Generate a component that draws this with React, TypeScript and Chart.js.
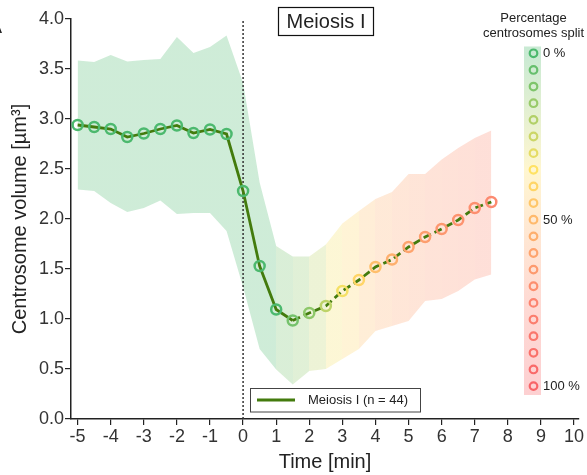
import React, { useEffect, useRef } from "react";
import { Chart, registerables } from "chart.js";

Chart.register(...registerables);

// ---------- data ----------
const times = [-5, -4.5, -4, -3.5, -3, -2.5, -2, -1.5, -1, -0.5, 0, 0.5, 1, 1.5, 2, 2.5, 3, 3.5, 4, 4.5, 5, 5.5, 6, 6.5, 7, 7.5];
const meanVolume = [2.94, 2.92, 2.9, 2.82, 2.855, 2.9, 2.935, 2.86, 2.895, 2.85, 2.28, 1.53, 1.095, 0.985, 1.06, 1.13, 1.28, 1.39, 1.52, 1.595, 1.72, 1.82, 1.9, 1.99, 2.11, 2.17];
const upperBand = [3.585, 3.57, 3.64, 3.575, 3.59, 3.6, 3.82, 3.66, 3.72, 3.835, 3.36, 2.365, 1.73, 1.625, 1.625, 1.745, 1.955, 2.08, 2.2, 2.27, 2.45, 2.45, 2.595, 2.71, 2.81, 2.885];
const lowerBand = [2.295, 2.28, 2.16, 2.07, 2.11, 2.185, 2.05, 2.06, 2.06, 1.88, 1.32, 0.7, 0.495, 0.345, 0.48, 0.5, 0.6, 0.7, 0.88, 0.93, 0.98, 1.18, 1.2, 1.28, 1.395, 1.445];
const splitPct = [0, 0, 0, 0, 0, 0, 0, 0, 0, 0, 0, 0, 0, 8, 13, 22, 33, 40, 48, 55, 60, 63, 66, 68, 70, 72];
const xTicks = [-5, -4, -3, -2, -1, 0, 1, 2, 3, 4, 5, 6, 7, 8, 9, 10];
const yTicks = [0, 0.5, 1, 1.5, 2, 2.5, 3, 3.5, 4];
const colorbarPct = [0, 5, 10, 15, 20, 25, 30, 35, 40, 45, 50, 55, 60, 65, 70, 75, 80, 85, 90, 95, 100];
const colorbarLabelPct = [0, 50, 100];
const colorbarLabelText = ["0 %", "50 %", "100 %"];
const colorbarTitle = ["Percentage", "centrosomes split"];
const seriesLabel = "Meiosis I (n = 44)";
const panelTitle = "Meiosis I";
const panelLetter = "A";
const xTitle = "Time [min]";
const yTitle = "Centrosome volume [µm³]";
const dashFromTime = 1.5;
const onsetTime = 0;

// ---------- style ----------
const FONT = "'Liberation Sans', Arial, Helvetica, sans-serif";
const LINE_COLOR = "#437b0d";
const TEXT = "#222";
const STOPS: [number, number[]][] = [
  [0, [76, 185, 110]],
  [35, [255, 226, 100]],
  [50, [255, 186, 108]],
  [75, [252, 132, 112]],
  [100, [248, 100, 104]],
];
function pctColor(p: number, a = 1): string {
  for (let k = 0; k < STOPS.length - 1; k++) {
    const [p0, c0] = STOPS[k];
    const [p1, c1] = STOPS[k + 1];
    if (p <= p1) {
      const t = (p - p0) / (p1 - p0);
      const c = c0.map((v, j) => Math.round(v + (c1[j] - v) * t));
      return `rgba(${c[0]},${c[1]},${c[2]},${a})`;
    }
  }
  const c = STOPS[STOPS.length - 1][1];
  return `rgba(${c[0]},${c[1]},${c[2]},${a})`;
}
const BAND_ALPHA = 0.27;

function bandFill(c: any) {
  const chart = c.chart;
  const xs = chart.scales && chart.scales.x;
  if (!chart.chartArea || !xs) return pctColor(0, BAND_ALPHA);
  const n = times.length;
  const x0 = xs.getPixelForValue(times[0]);
  const x1 = xs.getPixelForValue(times[n - 1]);
  const g = chart.ctx.createLinearGradient(x0, 0, x1, 0);
  for (let i = 0; i < n - 1; i++) {
    const col = pctColor(splitPct[i + 1], BAND_ALPHA);
    const a = (xs.getPixelForValue(times[i]) - x0) / (x1 - x0);
    const b = (xs.getPixelForValue(times[i + 1]) - x0) / (x1 - x0);
    g.addColorStop(Math.min(1, Math.max(0, a)), col);
    g.addColorStop(Math.min(1, Math.max(0, b)), col);
  }
  return g;
}

const overlayPlugin = {
  id: "overlay",
  afterDraw(chart: any) {
    const ctx: CanvasRenderingContext2D = chart.ctx;
    ctx.save();
    ctx.fillStyle = TEXT;
    ctx.font = `18px ${FONT}`;
    ctx.textBaseline = "middle";
    ctx.textAlign = "left";
    ctx.fillText(panelLetter, -10, 28);

    // panel title box
    ctx.strokeStyle = "#111";
    ctx.lineWidth = 1.2;
    ctx.strokeRect(278.5, 7.5, 95, 28);
    ctx.font = `20px ${FONT}`;
    ctx.textAlign = "center";
    ctx.fillText(panelTitle, 326, 22);

    // legend box
    ctx.fillStyle = "#fff";
    ctx.fillRect(250.5, 388.5, 170, 23.5);
    ctx.strokeStyle = "#444";
    ctx.lineWidth = 1;
    ctx.strokeRect(250.5, 388.5, 170, 23.5);
    ctx.strokeStyle = LINE_COLOR;
    ctx.lineWidth = 3;
    ctx.beginPath();
    ctx.moveTo(257, 400);
    ctx.lineTo(295, 400);
    ctx.stroke();
    ctx.fillStyle = TEXT;
    ctx.font = `13px ${FONT}`;
    ctx.textAlign = "left";
    ctx.fillText(seriesLabel, 308, 400.5);

    // colorbar
    const cx = 533.5;
    const y0 = 53.3;
    const step = 16.64;
    const top = 46.5;
    const bottom = 395;
    const grad = ctx.createLinearGradient(0, y0, 0, y0 + step * 20);
    colorbarPct.forEach((p) => grad.addColorStop(p / 100, pctColor(p, 0.3)));
    ctx.fillStyle = grad;
    ctx.fillRect(524, top, 17, bottom - top);
    colorbarPct.forEach((p, k) => {
      ctx.beginPath();
      ctx.arc(cx, y0 + k * step, 3.8, 0, Math.PI * 2);
      ctx.strokeStyle = pctColor(p);
      ctx.lineWidth = 2.2;
      ctx.stroke();
    });
    ctx.fillStyle = TEXT;
    ctx.font = `13px ${FONT}`;
    ctx.textAlign = "left";
    colorbarLabelPct.forEach((p, k) => {
      ctx.fillText(colorbarLabelText[k], 543, y0 + (p / 5) * step + 0.5);
    });
    ctx.textAlign = "center";
    ctx.fillText(colorbarTitle[0], 533.5, 18);
    ctx.fillText(colorbarTitle[1], 533.5, 33);
    ctx.restore();
  },
};

export default function App() {
  const ref = useRef<HTMLCanvasElement | null>(null);
  useEffect(() => {
    if (!ref.current) return;
    const datasets: any[] = [
      {
        data: times.map((t, i) => ({ x: t, y: upperBand[i] })),
        fill: "+1",
        backgroundColor: bandFill,
        borderColor: "transparent",
        borderWidth: 0,
        pointRadius: 0,
        order: 5,
      },
      {
        data: times.map((t, i) => ({ x: t, y: lowerBand[i] })),
        fill: false,
        backgroundColor: "transparent",
        borderColor: "transparent",
        borderWidth: 0,
        pointRadius: 0,
        order: 5,
      },
      {
        data: [
          { x: onsetTime, y: yTicks[0] },
          { x: onsetTime, y: yTicks[yTicks.length - 1] },
        ],
        borderColor: "#333",
        borderWidth: 1.5,
        borderDash: [2, 2],
        pointRadius: 0,
        fill: false,
        order: 2,
      },
      {
        data: times.map((t, i) => ({ x: t, y: meanVolume[i] })),
        borderColor: LINE_COLOR,
        borderWidth: 2.8,
        fill: false,
        pointRadius: 5,
        pointBorderWidth: 2.5,
        pointBorderColor: splitPct.map((p) => pctColor(p)),
        pointBackgroundColor: "rgba(255,255,255,0)",
        segment: {
          borderDash: (c: any) => (times[c.p0DataIndex] >= dashFromTime ? [8, 4] : undefined),
        },
        order: 0,
      },
    ];

    const chart = new Chart(ref.current, {
      type: "line",
      data: { datasets },
      options: {
        animation: false,
        responsive: false,
        devicePixelRatio: 1,
        layout: { padding: { top: 19, right: 8, bottom: 0, left: 0 } },
        plugins: { legend: { display: false }, tooltip: { enabled: false }, title: { display: false } },
        scales: {
          x: {
            type: "linear",
            min: -5.2,
            max: 10.15,
            afterBuildTicks: (s: any) => {
              s.ticks = xTicks.map((v) => ({ value: v }));
            },
            afterFit: (s: any) => {
              s.height = 56;
            },
            ticks: {
              callback: (v: any) => String(v),
              font: { size: 18, family: FONT },
              color: "#333",
              padding: 1,
              maxRotation: 0,
              autoSkip: false,
            },
            grid: { display: true, drawOnChartArea: false, drawTicks: true, tickLength: 6, color: "#222", lineWidth: 1.2 },
            border: { display: true, color: "#222", width: 1.5 },
            title: { display: true, text: xTitle, font: { size: 20, family: FONT }, color: TEXT, padding: { top: 0, bottom: 1 } },
          },
          y: {
            type: "linear",
            min: 0,
            max: 4,
            afterBuildTicks: (s: any) => {
              s.ticks = yTicks.map((v) => ({ value: v }));
            },
            afterFit: (s: any) => {
              s.width = 71;
            },
            ticks: {
              callback: (v: any) => Number(v).toFixed(1),
              font: { size: 18, family: FONT },
              color: "#333",
              padding: 1,
              autoSkip: false,
            },
            grid: { display: true, drawOnChartArea: false, drawTicks: true, tickLength: 6, color: "#222", lineWidth: 1.2 },
            border: { display: true, color: "#222", width: 1.5 },
            title: { display: true, text: yTitle, font: { size: 20, family: FONT }, color: TEXT, padding: { top: 8, bottom: 0 } },
          },
        },
      },
      plugins: [overlayPlugin],
    } as any);
    return () => chart.destroy();
  }, []);

  return (
    <div style={{ position: "fixed", left: 0, top: 0, width: 587, height: 475, background: "#fff" }}>
      <canvas ref={ref} width={587} height={475} style={{ width: 587, height: 475, display: "block" }} />
    </div>
  );
}
